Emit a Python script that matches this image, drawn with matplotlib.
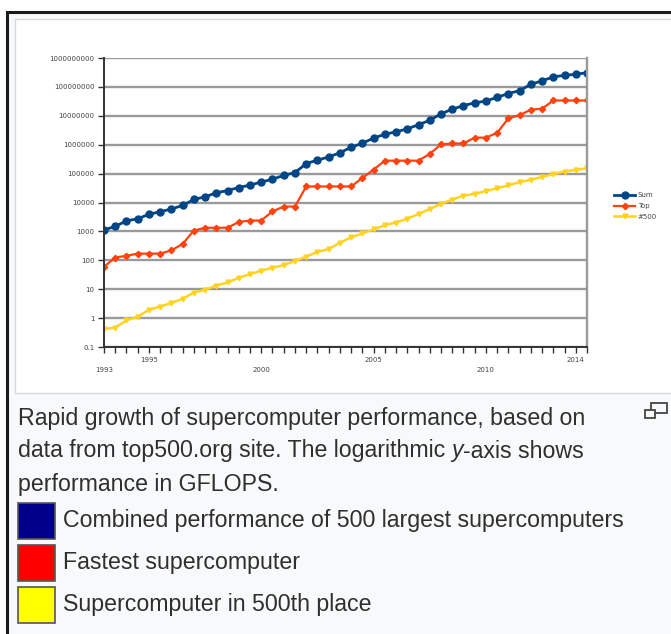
import numpy as np
import matplotlib
matplotlib.use("Agg")
from matplotlib import pyplot as plt
from matplotlib.patches import Rectangle

# TOP500 performance, GFLOPS, two lists per year (June / November), 1993-2014
periods = ["1993-06", "1993-11", "1994-06", "1994-11", "1995-06", "1995-11",
           "1996-06", "1996-11", "1997-06", "1997-11", "1998-06", "1998-11",
           "1999-06", "1999-11", "2000-06", "2000-11", "2001-06", "2001-11",
           "2002-06", "2002-11", "2003-06", "2003-11", "2004-06", "2004-11",
           "2005-06", "2005-11", "2006-06", "2006-11", "2007-06", "2007-11",
           "2008-06", "2008-11", "2009-06", "2009-11", "2010-06", "2010-11",
           "2011-06", "2011-11", "2012-06", "2012-11", "2013-06", "2013-11",
           "2014-06", "2014-11"]

perf_sum = [1128, 1493, 2317, 2732, 3927, 4783, 5971, 7907, 12710, 15760,
            21560, 26000, 33000, 40000, 51000, 64000, 87000, 108000, 222000,
            293000, 375000, 528000, 813000, 1127000, 1690000, 2300000,
            2790000, 3540000, 4920000, 6970000, 11700000, 16950000, 22600000,
            27950000, 32400000, 43700000, 58900000, 74200000, 123000000,
            162000000, 223000000, 250000000, 274000000, 309000000]

perf_top = [59.7, 124.5, 143.4, 170.4, 170.4, 170.4, 220.4, 368.2, 1068, 1338,
            1338, 1338, 2121, 2379, 2379, 4938, 7226, 7226, 35860, 35860,
            35860, 35860, 35860, 70720, 136800, 280600, 280600, 280600, 280600,
            478200, 1026000, 1105000, 1105000, 1759000, 1759000, 2566000,
            8162000, 10510000, 16320000, 17590000, 33860000, 33860000,
            33860000, 33860000]

perf_500 = [0.42, 0.47, 0.84, 1.11, 1.96, 2.49, 3.34, 4.62, 7.67, 9.51, 13.39,
            17.12, 24.73, 33.1, 43.8, 55.1, 67.8, 94.3, 134.3, 195.8, 245.1,
            403.4, 624, 850.6, 1166, 1646, 2026, 2737, 4005, 5929, 9000, 12640,
            17090, 20050, 24670, 31120, 39090, 50940, 60820, 76500, 96620,
            117800, 133700, 153400]

series_names = ["Sum", "Top", "#500"]
year_labels = ["1993", "1995", "2000", "2005", "2010", "2014"]
year_pos = [0, 4, 14, 24, 34, 42]
ytick_vals = [0.1, 1, 10, 100, 1000, 10000, 100000, 1000000, 10000000,
              100000000, 1000000000]
ytick_text = ["0.1", "1", "10", "100", "1000", "10000", "100000", "1000000",
              "10000000", "100000000", "1000000000"]

caption_lines = ["Rapid growth of supercomputer performance, based on",
                 "data from top500.org site. The logarithmic ",
                 "performance in GFLOPS."]
key_text = ["Combined performance of 500 largest supercomputers",
            "Fastest supercomputer",
            "Supercomputer in 500th place"]
key_colors = ["#00008b", "#ff0000", "#ffff00"]

W, H = 671, 634
fig = plt.figure(figsize=(W / 100, H / 100), dpi=100)
fig.patch.set_facecolor("white")


def fx(px):
    return px / W


def fy(py):
    return 1 - py / H


def rect(x0, y0, x1, y1, z=-10, **kw):
    r = Rectangle((fx(x0), fy(y1)), fx(x1 - x0), (y1 - y0) / H,
                  transform=fig.transFigure, zorder=z, **kw)
    fig.add_artist(r)
    return r


# page frame and thumbnail box
rect(7, 12, 680, 650, z=-20, facecolor="#f8f9fa", edgecolor="#1a1a1a", lw=2.2)
rect(15, 19, 676, 393, z=-15, facecolor="white", edgecolor="#d6d8da", lw=1)

ax = fig.add_axes([fx(104), fy(347), fx(587 - 104), (347 - 58) / H])
ax.patch.set_alpha(0)
x = np.arange(len(periods))

ax.plot(x, perf_sum, color="#004586", lw=2, marker="o", ms=5, label=series_names[0])
ax.plot(x, perf_top, color="#ff420e", lw=1.6, marker="D", ms=3.2, label=series_names[1])
ax.plot(x, perf_500, color="#ffd320", lw=1.8, marker="v", ms=3.5, label=series_names[2])

ax.set_yscale("log")
ax.set_ylim(0.1, 1e9)
ax.set_xlim(0, len(periods) - 1)
ax.set_yticks(ytick_vals)
ax.set_yticklabels(ytick_text)
ax.yaxis.set_minor_locator(matplotlib.ticker.NullLocator())
ax.grid(axis="y", color="#9a9a9a", lw=1.7)
ax.set_axisbelow(True)
ax.tick_params(axis="y", labelsize=5, colors="#333333", length=4, width=1, pad=3)
ax.tick_params(axis="y", labelcolor="#444444")

ax.set_xticks(x)
ax.set_xticklabels([])
ax.tick_params(axis="x", length=4, width=1, color="#333333")
for i, (lab, p) in enumerate(zip(year_labels, year_pos)):
    row = 1 if i % 2 == 0 else 0
    ax.annotate(lab, (p, 0), xycoords=("data", "axes fraction"),
                xytext=(0, -13 - row * 10), textcoords="offset pixels",
                ha="center", va="center", fontsize=5, color="#444444")

ax.spines["top"].set_visible(False)
ax.spines["right"].set_color("#9a9a9a")
ax.spines["right"].set_linewidth(1.7)
ax.spines["left"].set_color("#333333")
ax.spines["left"].set_linewidth(1.4)
ax.spines["bottom"].set_color("#333333")
ax.spines["bottom"].set_linewidth(1.4)

fig.legend(loc="center left", bbox_to_anchor=(fx(608), fy(206)), frameon=False,
           fontsize=5, handlelength=3, labelspacing=0.7, handletextpad=0.4,
           labelcolor="#444444")

# caption
cap_x = fx(18)
fs = 16.7
tcol = "#2f2f2f"
fam = "Liberation Sans"
fig.text(cap_x, fy(418), caption_lines[0], fontsize=fs, color=tcol,
         family=fam, va="center")
t2 = fig.text(cap_x, fy(451), caption_lines[1], fontsize=fs, color=tcol,
              family=fam, va="center")
fig.canvas.draw()
bb = t2.get_window_extent()
t3 = fig.text(bb.x1 / W, fy(451), "y", fontsize=fs, color=tcol, style="italic",
              family=fam, va="center")
fig.canvas.draw()
bb = t3.get_window_extent()
fig.text(bb.x1 / W, fy(451), "-axis shows", fontsize=fs, color=tcol,
         family=fam, va="center")
fig.text(cap_x, fy(485), caption_lines[2], fontsize=fs, color=tcol,
         family=fam, va="center")

rows_y = [521, 563, 605]
for txt, c, yy in zip(key_text, key_colors, rows_y):
    rect(18, yy - 18, 55, yy + 18, z=1, facecolor=c, edgecolor="#555555", lw=1.2)
    fig.text(fx(63), fy(yy), txt, fontsize=fs, color=tcol,
             family=fam, va="center")

# enlarge icon
rect(651, 403, 667, 413, z=1, facecolor="none", edgecolor="#444444", lw=1.3)
rect(645, 410, 655, 418, z=2, facecolor="#f8f9fa", edgecolor="#444444", lw=1.3)

fig.savefig("out.png", dpi=100, facecolor=fig.get_facecolor())
